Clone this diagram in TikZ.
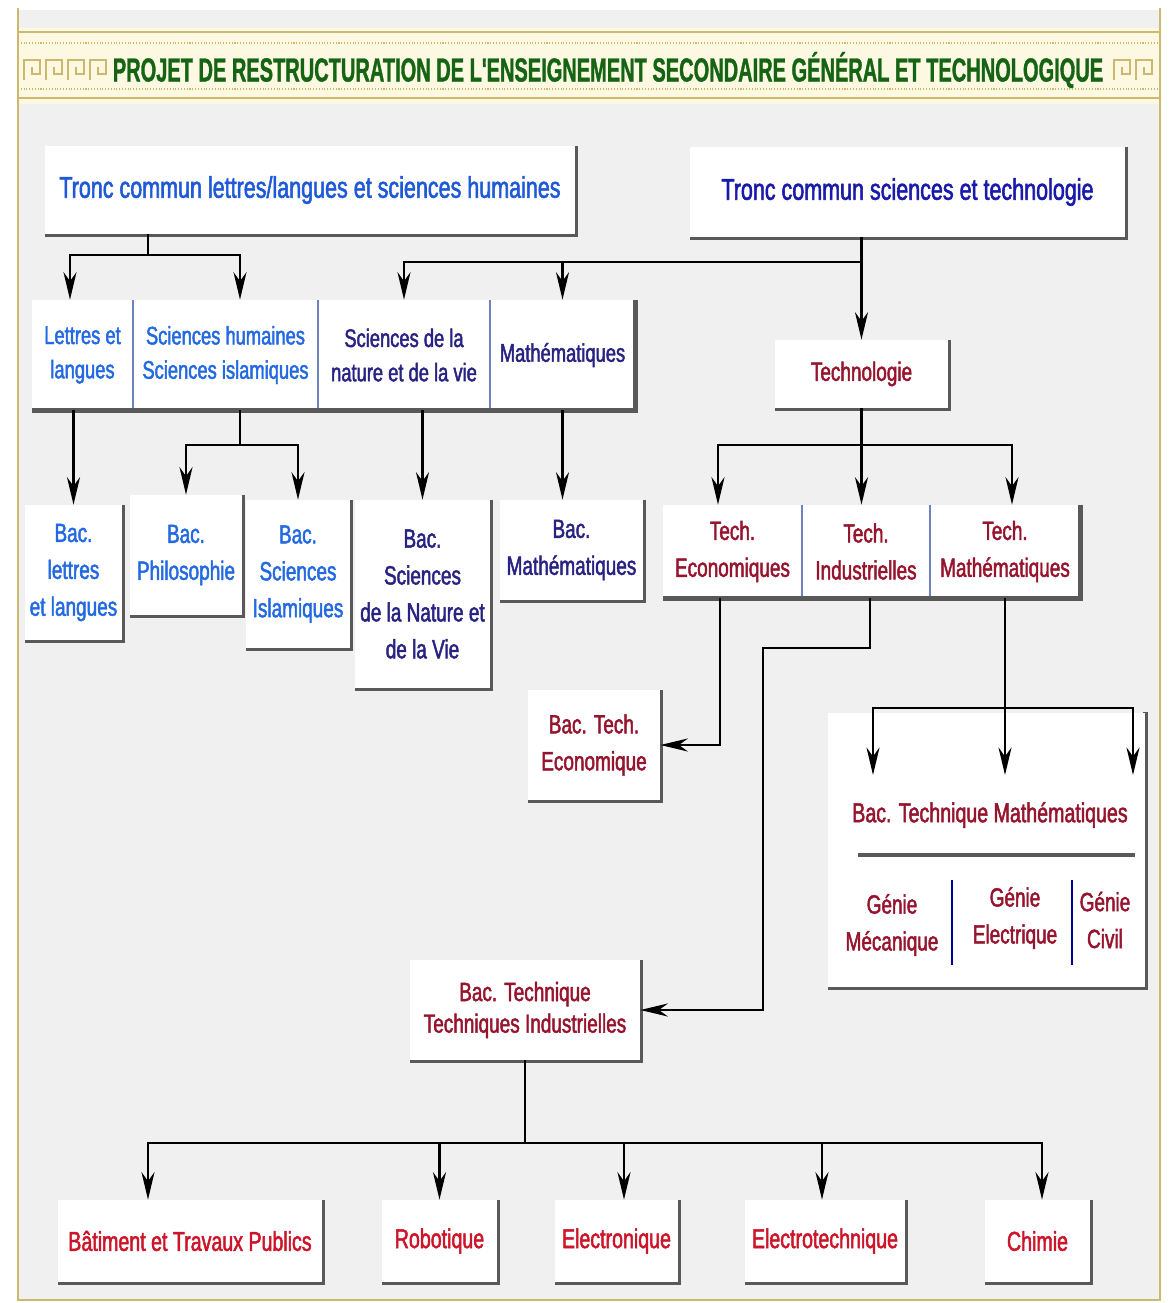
\documentclass[tikz,border=0pt]{standalone}
\usepackage{fontspec}
\setmainfont{Liberation Sans}
\newfontfamily\boitefont[FakeStretch=0.72,FakeBold=1.8]{Liberation Sans}
\newfontfamily\titrefont[FakeStretch=0.6,FakeBold=1]{Liberation Sans Bold}
\usetikzlibrary{arrows.meta}

\definecolor{vertitre}{RGB}{20,100,20}
\definecolor{bleuclair}{RGB}{35,105,225}
\definecolor{bleutronc}{RGB}{30,90,215}
\definecolor{bleunuit}{RGB}{25,25,170}
\definecolor{indigo}{RGB}{40,35,130}
\definecolor{bordeaux}{RGB}{150,20,45}
\definecolor{rouge}{RGB}{205,20,40}
\definecolor{fond}{RGB}{240,240,240}
\definecolor{creme}{RGB}{252,248,226}
\definecolor{dore}{RGB}{205,185,110}
\definecolor{separ}{RGB}{110,130,190}

\begin{document}
\begin{tikzpicture}[x=0.02cm,y=-0.02cm,
  lien/.style={line width=1.6pt},
  fleche/.style={lien,-{Stealth[length=5.5mm,width=2.6mm]}},
  ombre/.style={black!65,line width=2.6pt},
  sepline/.style={separ,line width=1.1pt},
  case/.style={fill=white,align=center,inner sep=0pt,font=\boitefont\fontsize{15}{21}\selectfont},
  boite/.style={case,append after command={\pgfextra{\draw[ombre] (\tikzlastnode.north east) -- (\tikzlastnode.south east) -- (\tikzlastnode.south west);}}},
  rang/.style={font=\boitefont\fontsize{14.5}{19.5}\selectfont},
  tronc/.style={font=\boitefont\fontsize{17}{20}\selectfont},
  bas/.style={font=\boitefont\fontsize{15.5}{20}\selectfont,text=rouge}]
  \useasboundingbox (0,0) rectangle (1172,1303);
  % fond et bandeau
  \fill[white] (0,0) rectangle (1172,1303);
  \fill[fond] (18,10) rectangle (1160,1300);
  \fill[creme] (18,28) rectangle (1160,104);
  \draw[dore,line width=1.2pt] (18,8) -- (18,1300) -- (1160,1300) -- (1160,8);
  \draw[dore,line width=1.4pt] (18,32) -- (1160,32) (18,98) -- (1160,98);
  \draw[dore,densely dotted,line width=.6pt] (18,43) -- (1160,43) (18,89) -- (1160,89);
  \foreach \u in {24,46,68,90,1114,1136}
    \draw[dore,line width=1.2pt] (\u,80) -- (\u,60) -- (\u+16,60) -- (\u+16,74) -- (\u+8,74) -- (\u+8,67);
  \node[font=\titrefont\fontsize{19}{19}\selectfont,text=vertitre] (titre) at (608,70)
    {PROJET DE RESTRUCTURATION DE L'ENSEIGNEMENT SECONDAIRE GÉNÉRAL ET TECHNOLOGIQUE};

  % troncs communs
  \node[boite,tronc,text=bleutronc,minimum width=10.6cm,minimum height=1.76cm] (tcl) at (310,190)
    {Tronc commun lettres/langues et sciences humaines};
  \node[boite,tronc,text=bleunuit,minimum width=8.7cm,minimum height=1.8cm] (tcs) at (907.5,192)
    {Tronc commun sciences et technologie};

  % filieres
  \node[case,rang,text=bleuclair,minimum width=2.02cm,minimum height=2.2cm] (ll) at (82.5,355) {Lettres et\\langues};
  \node[case,rang,text=bleuclair,minimum width=3.7cm,minimum height=2.2cm] (sh) at (225.5,355) {Sciences humaines\\Sciences islamiques};
  \node[case,rang,text=indigo,minimum width=3.44cm,minimum height=2.2cm] (sn) at (404,355) {Sciences de la\\nature et de la vie};
  \node[case,rang,text=indigo,minimum width=2.9cm,minimum height=2.2cm] (ma) at (562.5,355) {Mathématiques};
  \draw[sepline] (ll.north east) -- (ll.south east) (sh.north east) -- (sh.south east) (sn.north east) -- (sn.south east);
  \draw[ombre] (ma.north east) -- (ma.south east) -- (ll.south west);
  \node[boite,text=bordeaux,minimum width=3.46cm,minimum height=1.36cm] (tec) at (861.5,374) {Technologie};

  % bacs generaux
  \node[boite,text=bleuclair,minimum width=1.94cm,minimum height=2.7cm] (bll) at (73.5,572.5) {Bac.\\lettres\\et langues};
  \node[boite,text=bleuclair,minimum width=2.24cm,minimum height=2.4cm] (bph) at (186,555) {Bac.\\Philosophie};
  \node[boite,text=bleuclair,minimum width=2.08cm,minimum height=2.96cm] (bsi) at (298,574) {Bac.\\Sciences\\Islamiques};
  \node[boite,text=indigo,minimum width=2.7cm,minimum height=3.76cm] (bsn) at (422.5,594) {Bac.\\Sciences\\de la Nature et\\de la Vie};
  \node[boite,text=indigo,minimum width=2.86cm,minimum height=2cm] (bma) at (571.5,550) {Bac.\\Mathématiques};

  % technologie
  \node[case,text=bordeaux,minimum width=2.78cm,minimum height=1.86cm] (tce) at (732.5,551.5) {Tech.\\Economiques};
  \node[case,text=bordeaux,minimum width=2.56cm,minimum height=1.86cm] (tci) at (866,551.5) {Tech.\\Industrielles};
  \node[case,text=bordeaux,minimum width=3cm,minimum height=1.86cm] (tcm) at (1005,551.5) {Tech.\\Mathématiques};
  \draw[sepline] (tce.north east) -- (tce.south east) (tci.north east) -- (tci.south east);
  \draw[ombre] (tcm.north east) -- (tcm.south east) -- (tce.south west);

  \node[boite,text=bordeaux,minimum width=2.64cm,minimum height=2.2cm] (bte) at (594,745) {Bac. Tech.\\Economique};
  \node[boite,minimum width=6.34cm,minimum height=5.5cm] (btm) at (986.5,850) {};
  \node[text=bordeaux,font=\boitefont\fontsize{15.5}{20}\selectfont] (btmt) at (990,815) {Bac. Technique Mathématiques};
  \draw[ombre] (858,855) -- (1135,855);
  \node[align=center,text=bordeaux,font=\boitefont\fontsize{15}{21}\selectfont] (gm) at (892,925) {Génie\\Mécanique};
  \node[align=center,text=bordeaux,font=\boitefont\fontsize{15}{21}\selectfont] (ge) at (1015,918) {Génie\\Electrique};
  \node[align=center,text=bordeaux,font=\boitefont\fontsize{15}{21}\selectfont] (gc) at (1105,920) {Génie\\Civil};
  \draw[sepline,blue!60!black] (952,880) -- (952,965) (1072,880) -- (1072,965);
  \node[boite,text=bordeaux,minimum width=4.6cm,minimum height=2cm,font=\boitefont\fontsize{15}{18}\selectfont] (bti) at (525,1010) {Bac. Technique\\Techniques Industrielles};

  % specialites
  \node[boite,bas,minimum width=5.28cm,minimum height=1.64cm] (btp) at (190,1241) {Bâtiment et Travaux Publics};
  \node[boite,bas,minimum width=2.3cm,minimum height=1.64cm] (rob) at (439.5,1241) {Robotique};
  \node[boite,bas,minimum width=2.46cm,minimum height=1.64cm] (ele) at (616.5,1241) {Electronique};
  \node[boite,bas,minimum width=3.2cm,minimum height=1.64cm] (elt) at (825,1241) {Electrotechnique};
  \node[boite,bas,minimum width=2.1cm,minimum height=1.64cm] (chi) at (1037.5,1241) {Chimie};

  % liaisons
  \coordinate (b1) at (148,255);
  \draw[lien] (tcl.south -| b1) -- (b1);
  \draw[fleche] (b1) -| (ll.north -| 70,0);
  \draw[fleche] (b1) -| (sh.north -| 240,0);
  \coordinate (b2) at (tec.north |- 0,262);
  \draw[fleche] (tcs.south -| b2) -- (tec.north);
  \draw[fleche] (b2) -| (sn.north);
  \draw[fleche] (b2) -| (ma.north);

  \draw[fleche] (ll.south -| bll.north) -- (bll.north);
  \coordinate (b3) at (240,445);
  \draw[lien] (sh.south -| b3) -- (b3);
  \draw[fleche] (b3) -| (bph.north);
  \draw[fleche] (b3) -| (bsi.north);
  \draw[fleche] (sn.south -| bsn.north) -- (bsn.north);
  \draw[fleche] (ma.south) -- (ma.south |- bma.north);

  \coordinate (b4) at (tec.south |- 0,445);
  \draw[lien] (tec.south) -- (b4);
  \draw[fleche] (b4) -| (tce.north -| 718,0);
  \draw[fleche] (b4) -- (b4 |- tci.north);
  \draw[fleche] (b4) -| (tcm.north -| 1012,0);

  \draw[fleche] (tce.south -| 720,0) |- (bte.east);
  \coordinate (coude) at (763,648);
  \draw[fleche] (tci.south -| 870,0) |- (coude) |- (bti.east);
  \coordinate (b5) at (tcm.south |- 0,708);
  \coordinate (g1) at (873,775);
  \coordinate (g3) at (1133,775);
  \draw[lien] (tcm.south) -- (b5);
  \draw[fleche] (b5) -| (g1);
  \draw[fleche] (b5) -| (g3);
  \draw[fleche] (b5) -- (b5 |- g1);

  \coordinate (b6) at (bti.south |- 0,1143);
  \draw[lien] (bti.south) -- (b6);
  \draw[fleche] (b6) -| (btp.north -| 148,0);
  \draw[fleche] (b6) -| (rob.north);
  \draw[fleche] (b6) -| (ele.north -| 624,0);
  \draw[fleche] (b6) -| (elt.north -| 822,0);
  \draw[fleche] (b6) -| (chi.north -| 1042,0);
\end{tikzpicture}
\end{document}
